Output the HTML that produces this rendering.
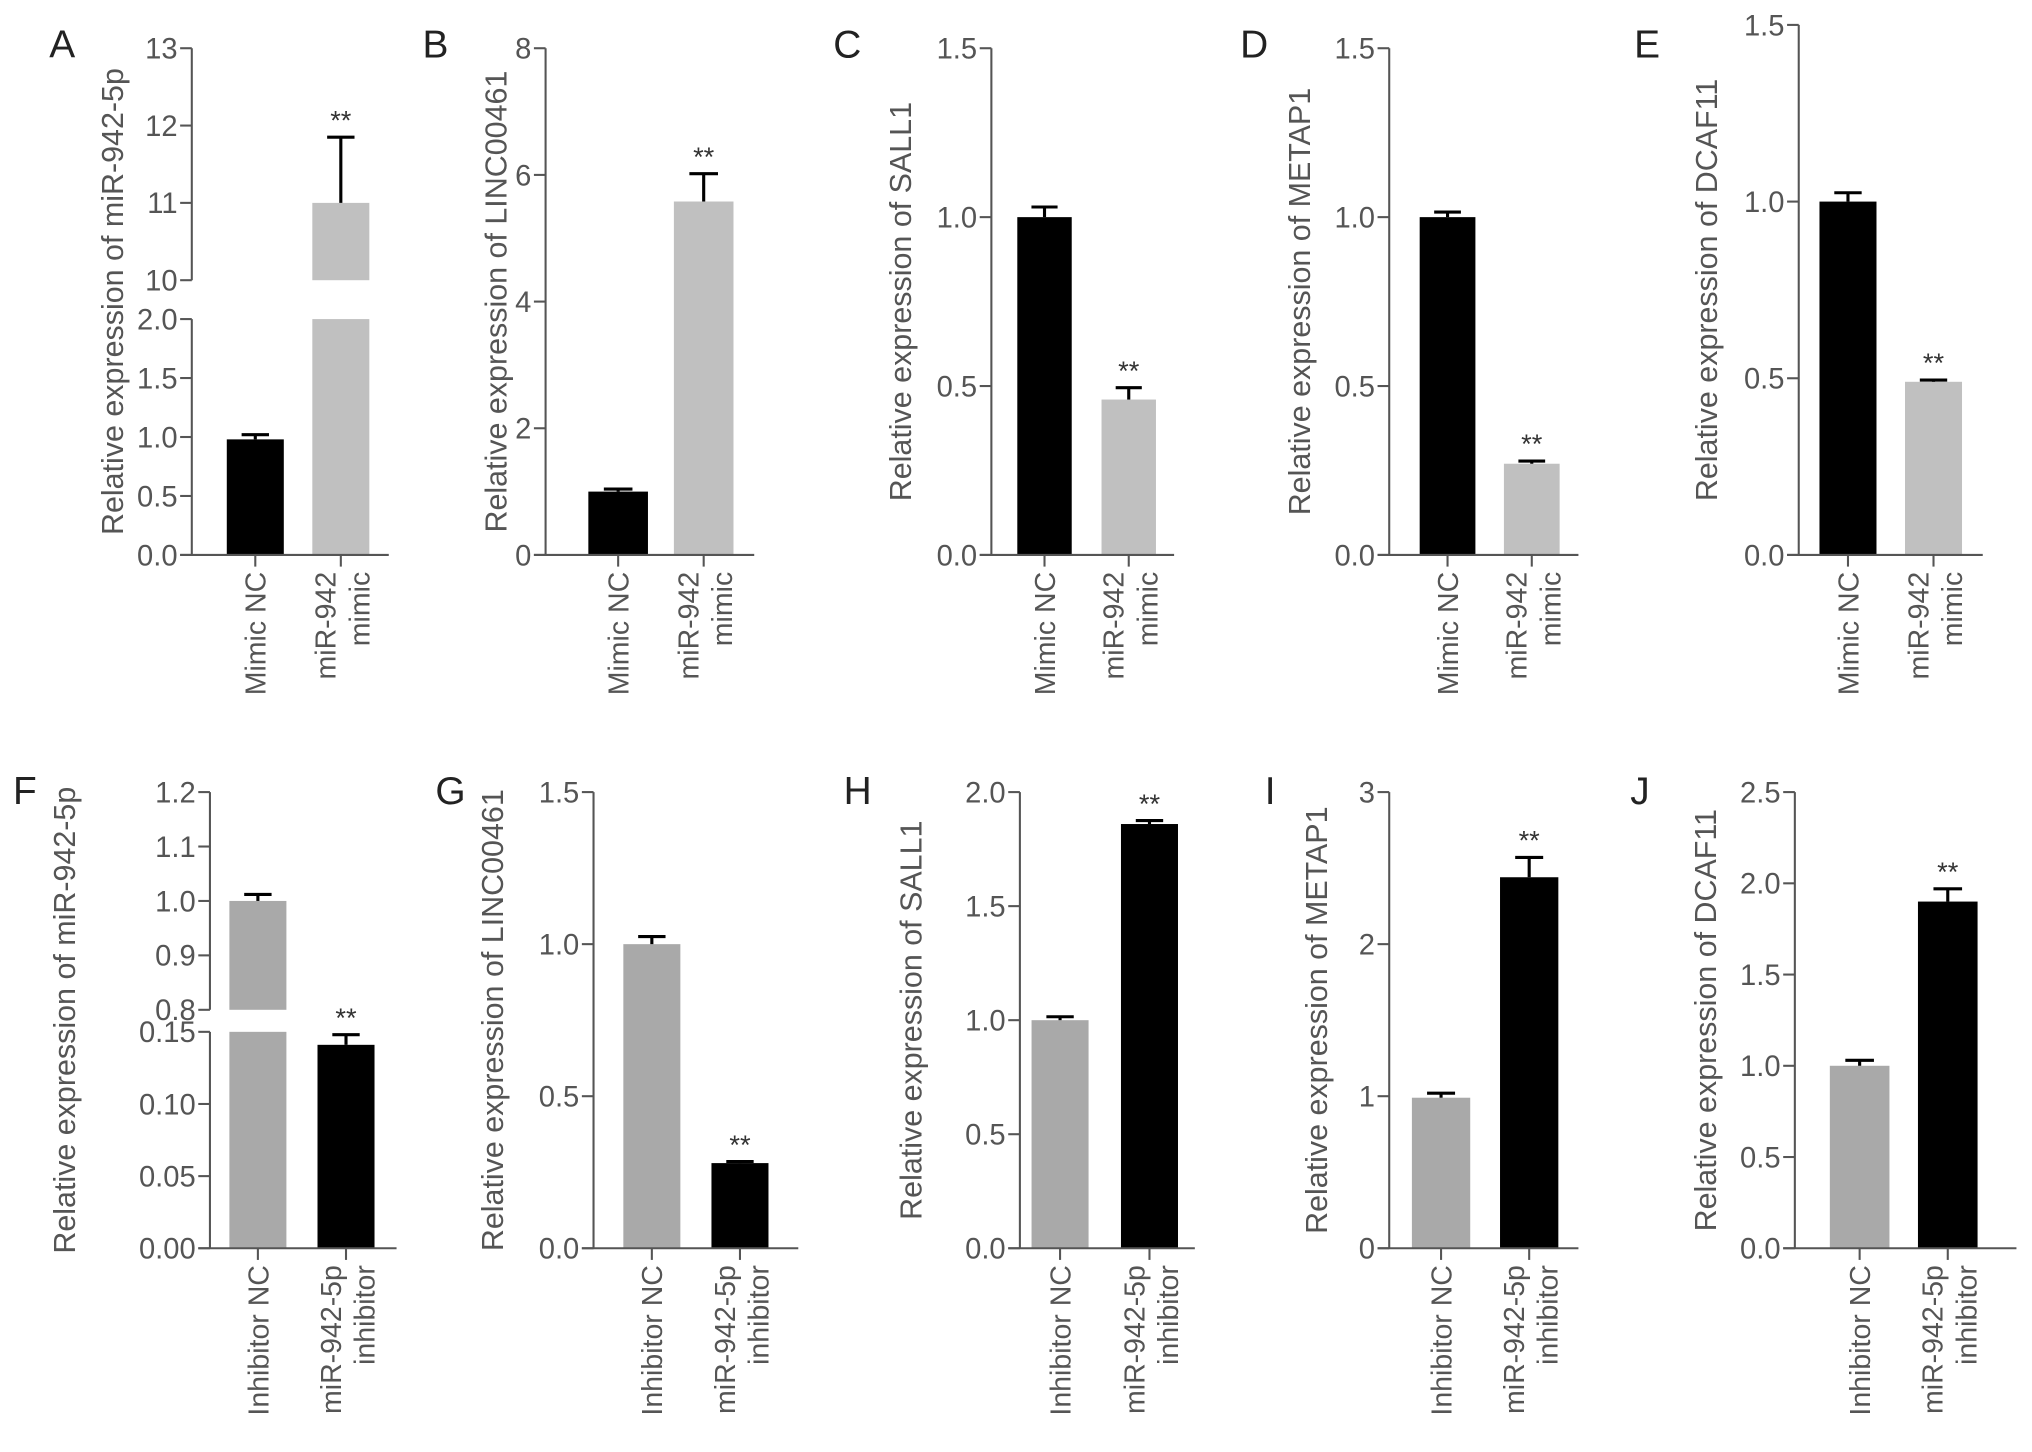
<!DOCTYPE html>
<html><head><meta charset="utf-8"><style>
html,body{margin:0;padding:0;background:#fff;}
svg{display:block;}
text{font-family:"Liberation Sans",sans-serif;}
</style></head><body>
<svg id="fig" width="2032" height="1452" viewBox="0 0 1568 1120" xmlns="http://www.w3.org/2000/svg"></svg>
<script>
// ---- data ----
const groupsTop = ['Mimic NC', 'miR-942 mimic'];
const groupsBottom = ['Inhibitor NC', 'miR-942-5p inhibitor'];
const meansA = [0.98, 11.0];  const errA = [1.02, 11.85];
const meansB = [1.0, 5.58];   const errB = [1.04, 6.02];
const meansC = [1.0, 0.46];   const errC = [1.03, 0.495];
const meansD = [1.0, 0.27];   const errD = [1.015, 0.278];
const meansE = [1.0, 0.49];   const errE = [1.025, 0.495];
const meansF = [1.0, 0.141];  const errF = [1.012, 0.148];
const meansG = [1.0, 0.28];   const errG = [1.025, 0.285];
const meansH = [1.0, 1.86];   const errH = [1.015, 1.875];
const meansI = [0.99, 2.44];  const errI = [1.02, 2.57];
const meansJ = [1.0, 1.9];    const errJ = [1.03, 1.97];
const ticksA = [0, 0.5, 1, 1.5, 2, 10, 11, 12, 13];
const tickLabelsA = ['0.0','0.5','1.0','1.5','2.0','10','11','12','13'];
const ticksB = [0, 2, 4, 6, 8];
const tickLabelsB = ['0','2','4','6','8'];
const ticks15 = [0, 0.5, 1, 1.5];
const tickLabels15 = ['0.0','0.5','1.0','1.5'];
const ticksF = [0, 0.05, 0.10, 0.15, 0.8, 0.9, 1.0, 1.1, 1.2];
const tickLabelsF = ['0.00','0.05','0.10','0.15','0.8','0.9','1.0','1.1','1.2'];
const ticksH = [0, 0.5, 1, 1.5, 2];
const tickLabelsH = ['0.0','0.5','1.0','1.5','2.0'];
const ticksI = [0, 1, 2, 3];
const tickLabelsI = ['0','1','2','3'];
const ticksJ = [0, 0.5, 1, 1.5, 2, 2.5];
const tickLabelsJ = ['0.0','0.5','1.0','1.5','2.0','2.5'];
const stars = ['', '**'];

// ---- layout ----
const TOPC = ['#000', '#c0c0c0'], BOTC = ['#a9a9a9', '#000'];
const panels = [
 {id:'a',letter:'A',lx:38,ly:44,ax:148,bx:[197,263],bw:44,cols:TOPC,means:meansA,errs:errA,ticks:ticksA,tl:tickLabelsA,groups:groupsTop,
  segs:[{lo:0,hi:2,y0:428,y1:246},{lo:10,hi:13,y0:216,y1:37}],title:'Relative expression of miR-942-5p',tx:95,xend:300},
 {id:'b',letter:'B',lx:326,ly:44,ax:421,bx:[477,543],bw:46,cols:TOPC,means:meansB,errs:errB,ticks:ticksB,tl:tickLabelsB,groups:groupsTop,
  segs:[{lo:0,hi:8,y0:428,y1:37}],title:'Relative expression of LINC00461',tx:391,xend:582},
 {id:'c',letter:'C',lx:643,ly:44,ax:765,bx:[806,871],bw:42,cols:TOPC,means:meansC,errs:errC,ticks:ticks15,tl:tickLabels15,groups:groupsTop,
  segs:[{lo:0,hi:1.5,y0:428,y1:37}],title:'Relative expression of SALL1',tx:703,xend:906},
 {id:'d',letter:'D',lx:957,ly:44,ax:1072,bx:[1117,1182],bw:43,cols:TOPC,means:meansD,errs:errD,ticks:ticks15,tl:tickLabels15,groups:groupsTop,
  segs:[{lo:0,hi:1.5,y0:428,y1:37}],title:'Relative expression of METAP1',tx:1011,xend:1218},
 {id:'e',letter:'E',lx:1261,ly:44,ax:1388,bx:[1426,1492],bw:44,cols:TOPC,means:meansE,errs:errE,ticks:ticks15,tl:tickLabels15,groups:groupsTop,
  segs:[{lo:0,hi:1.5,y0:428,y1:19}],title:'Relative expression of DCAF11',tx:1325,xend:1530},
 {id:'f',letter:'F',lx:10,ly:620,ax:162,bx:[199,267],bw:44,cols:BOTC,means:meansF,errs:errF,ticks:ticksF,tl:tickLabelsF,groups:groupsBottom,
  segs:[{lo:0,hi:0.15,y0:963,y1:796},{lo:0.8,hi:1.2,y0:779,y1:611}],title:'Relative expression of miR-942-5p',tx:58,xend:306},
 {id:'g',letter:'G',lx:336,ly:620,ax:458,bx:[503,571],bw:44,cols:BOTC,means:meansG,errs:errG,ticks:ticks15,tl:tickLabels15,groups:groupsBottom,
  segs:[{lo:0,hi:1.5,y0:963,y1:611}],title:'Relative expression of LINC00461',tx:388,xend:616},
 {id:'h',letter:'H',lx:651,ly:620,ax:787,bx:[818,887],bw:44,cols:BOTC,means:meansH,errs:errH,ticks:ticksH,tl:tickLabelsH,groups:groupsBottom,
  segs:[{lo:0,hi:2,y0:963,y1:611}],title:'Relative expression of SALL1',tx:711,xend:922},
 {id:'i',letter:'I',lx:976,ly:620,ax:1072,bx:[1112,1180],bw:45,cols:BOTC,means:meansI,errs:errI,ticks:ticksI,tl:tickLabelsI,groups:groupsBottom,
  segs:[{lo:0,hi:3,y0:963,y1:611}],title:'Relative expression of METAP1',tx:1024,xend:1218},
 {id:'j',letter:'J',lx:1258,ly:620,ax:1385,bx:[1435,1503],bw:46,cols:BOTC,means:meansJ,errs:errJ,ticks:ticksJ,tl:tickLabelsJ,groups:groupsBottom,
  segs:[{lo:0,hi:2.5,y0:963,y1:611}],title:'Relative expression of DCAF11',tx:1324,xend:1556}
];

const NS = 'http://www.w3.org/2000/svg';
const svg = document.getElementById('fig');
function mk(tag, attrs, parent, txt){
  const e = document.createElementNS(NS, tag);
  for (const k in attrs) e.setAttribute(k, attrs[k]);
  if (txt !== undefined) e.textContent = txt;
  parent.appendChild(e); return e;
}
function segFor(p, v){ for (const s of p.segs) if (v >= s.lo - 1e-9 && v <= s.hi + 1e-9) return s; return null; }
function yOf(s, v){ return s.y0 + (v - s.lo) / (s.hi - s.lo) * (s.y1 - s.y0); }

panels.forEach(p => {
  const g = mk('g', {}, svg);
  
  
  const y0 = p.segs[0].y0, yTop = p.segs[p.segs.length-1].y1;
  const L = mk('text', {x:p.lx, y:p.ly, 'font-size':30, fill:'#222'}, g, p.letter);
  
  
  const ty = (y0 + yTop) / 2;
  const T = mk('text', {x:p.tx, y:ty, 'font-size':23.5, fill:'#555', 'text-anchor':'middle', transform:`rotate(-90 ${p.tx} ${ty})`}, g, p.title);
  
  
  p.means.forEach((v, i) => {
    p.segs.forEach(s => {
      if (v > s.lo) {
        const top = yOf(s, Math.min(v, s.hi)), bot = yOf(s, s.lo);
        const r = mk('rect', {x:p.bx[i]-p.bw/2, y:top, width:p.bw, height:bot-top, fill:p.cols[i]}, g);
        
        
      }
    });
    const e = p.errs[i], se = segFor(p, e), sv = segFor(p, v);
    if (se) {
      const ye = yOf(se, e), yv = sv ? yOf(sv, v) : se.y0;
      const eg = mk('g', {stroke:'#000', 'stroke-width':2.4}, g);
      
      
      mk('line', {x1:p.bx[i], y1:yv, x2:p.bx[i], y2:ye}, eg);
      mk('line', {x1:p.bx[i]-p.bw*0.24, y1:ye, x2:p.bx[i]+p.bw*0.24, y2:ye}, eg);
      if (stars[i]) {
        const st = mk('text', {x:p.bx[i], y:ye-6, 'font-size':21, fill:'#333', 'text-anchor':'middle'}, g, stars[i]);
        
        
      }
    }
  });
  const ax = mk('g', {stroke:'#555', 'stroke-width':1.6}, g);
  
  
  p.segs.forEach(s => mk('line', {x1:p.ax, y1:s.y0, x2:p.ax, y2:s.y1}, ax));
  p.ticks.forEach((t, k) => {
    const s = segFor(p, t); if (!s) return;
    const y = yOf(s, t);
    mk('line', {x1:p.ax-9, y1:y, x2:p.ax, y2:y}, ax);
    const tl = mk('text', {x:p.ax-11, y:y+8, 'font-size':22.5, fill:'#555', stroke:'none', 'text-anchor':'end'}, g, p.tl[k]);
    
    
  });
  const xa = mk('g', {stroke:'#555', 'stroke-width':1.6}, g);
  
  
  mk('line', {x1:p.ax-9, y1:y0, x2:p.xend, y2:y0}, xa);
  p.bx.forEach(cx => mk('line', {x1:cx, y1:y0, x2:cx, y2:y0+9}, xa));
  p.groups.forEach((lab, i) => {
    const ys = y0 + 13;
    const parts = lab.split(' ');
    const lines = i === 0 ? [lab] : [parts[0], parts.slice(1).join(' ')];
    lines.forEach((ln, j) => {
      const x = lines.length === 1 ? p.bx[i] + 8 : p.bx[i] - 4 + j * 26;
      const t = mk('text', {x:x, y:ys, 'font-size':22, fill:'#555', 'text-anchor':'end', transform:`rotate(-90 ${x} ${ys})`}, g, ln);
      
      
    });
  });
});
</script>
</body></html>
